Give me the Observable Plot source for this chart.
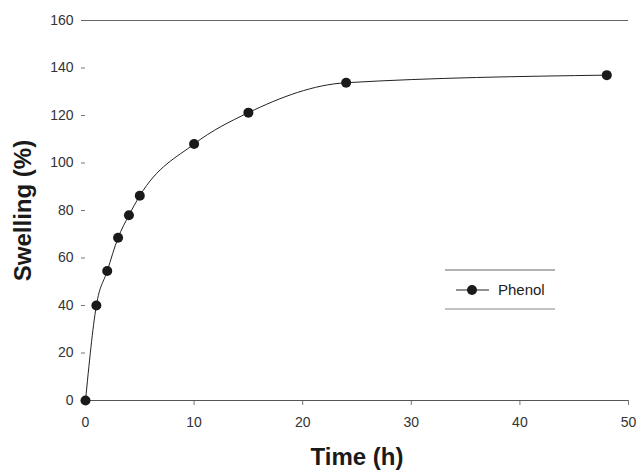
<!DOCTYPE html>
<html>
<head>
<meta charset="utf-8">
<script src="https://cdn.jsdelivr.net/npm/d3@7"></script>
<script src="https://cdn.jsdelivr.net/npm/@observablehq/plot@0.6"></script>
<style>
  html, body { margin: 0; padding: 0; background: #fff; }
  #chart { position: relative; width: 640px; height: 470px; }
  svg { font-family: "Liberation Sans", Arial, sans-serif; }
</style>
</head>
<body>
<div id="chart"></div>
<script>
const time = [0, 1, 2, 3, 4, 5, 10, 15, 24, 48];
const swelling = [0, 40, 54.5, 68.5, 78, 86.2, 108, 121.2, 133.8, 137];
const xTicks = [0, 10, 20, 30, 40, 50];
const yTicks = [0, 20, 40, 60, 80, 100, 120, 140, 160];
const seriesName = "Phenol";
const xTitle = "Time (h)";
const yTitle = "Swelling (%)";

const data = time.map((t, i) => ({t, s: swelling[i]}));

const chart = Plot.plot({
  width: 640,
  height: 470,
  marginLeft: 85,
  marginRight: 12,
  marginTop: 20,
  marginBottom: 70,
  style: {fontFamily: "Liberation Sans, Arial, sans-serif", background: "#fff"},
  x: {domain: [0, 50]},
  y: {domain: [0, 160]},
  marks: [
    Plot.axisY({ticks: yTicks, tickSize: 4, tickPadding: 8, fontSize: 14, label: null, color: "#333", stroke: "#777"}),
    Plot.axisX({ticks: xTicks, tickSize: 5, tickPadding: 12, fontSize: 14, label: null, color: "#333", stroke: "#777"}),
    Plot.ruleY([0], {stroke: "#555", strokeWidth: 1.2}),
    Plot.ruleY([160], {stroke: "#666", strokeWidth: 1.2, insetLeft: -4}),
    Plot.line(data, {x: "t", y: "s", curve: "monotone-x", stroke: "#222", strokeWidth: 1}),
    Plot.dot(data, {x: "t", y: "s", r: 5, fill: "#1a1a1a", stroke: "none"}),
    Plot.text([xTitle], {frameAnchor: "bottom", textAnchor: "middle", lineAnchor: "bottom", dy: 64, fontSize: 24, fontWeight: "bold", fill: "#1a1a1a"}),
    Plot.text([yTitle], {frameAnchor: "left", textAnchor: "middle", lineAnchor: "middle", dx: -62, rotate: -90, fontSize: 24, fontWeight: "bold", fill: "#1a1a1a"})
  ]
});

document.getElementById("chart").appendChild(chart);

// legend inside the plot area
const svg = d3.select(chart);
const lg = svg.append("g").attr("transform", "translate(445,270)");
lg.append("line").attr("x1", 0).attr("x2", 110).attr("y1", 0).attr("y2", 0).attr("stroke", "#666").attr("stroke-width", 1.2);
lg.append("line").attr("x1", 0).attr("x2", 110).attr("y1", 39).attr("y2", 39).attr("stroke", "#888").attr("stroke-width", 1.2);
lg.append("line").attr("x1", 11).attr("x2", 44).attr("y1", 20).attr("y2", 20).attr("stroke", "#222").attr("stroke-width", 1);
lg.append("circle").attr("cx", 27).attr("cy", 20).attr("r", 5).attr("fill", "#1a1a1a");
lg.append("text").attr("x", 53).attr("y", 25).attr("font-size", 15).attr("fill", "#222")
  .attr("text-anchor", "start")
  .attr("font-family", "Liberation Sans, Arial, sans-serif").text(seriesName);
</script>
</body>
</html>
